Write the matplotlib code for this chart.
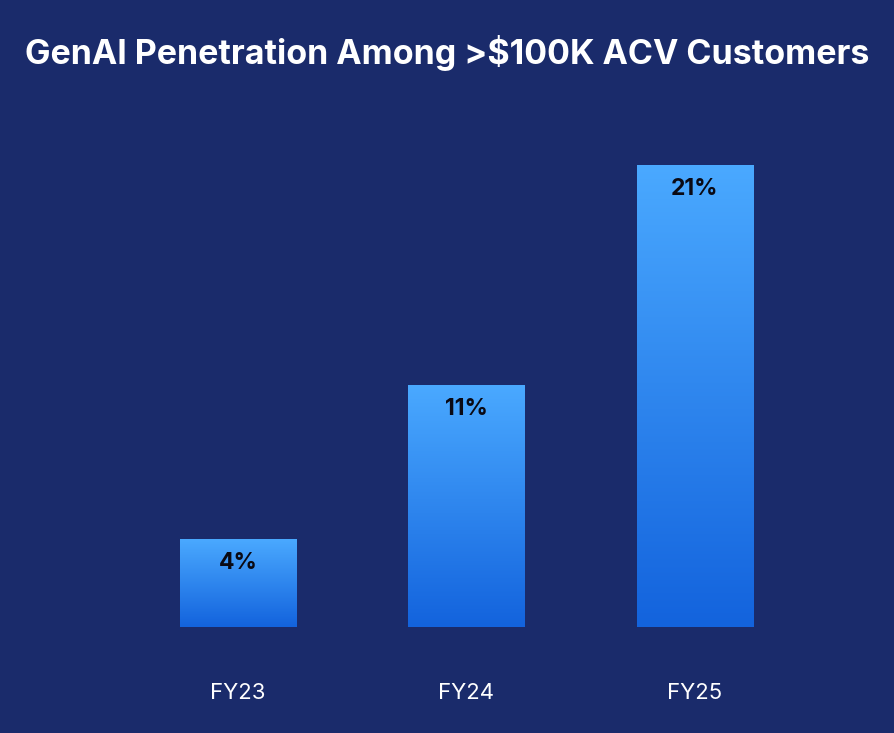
import matplotlib.pyplot as plt
import numpy as np
from matplotlib.colors import LinearSegmentedColormap

years = ['FY23', 'FY24', 'FY25']
penetration = [4, 11, 21]  # %
title = 'GenAI Penetration Among >$100K ACV Customers'

bg = '#1a2b6b'
grad = LinearSegmentedColormap.from_list('bar', ['#1363dd', '#4aa9ff'])

plt.rcParams['font.family'] = ['Inter', 'DejaVu Sans']

fig = plt.figure(figsize=(8.94, 7.33), dpi=100, facecolor=bg)
ax = fig.add_axes([123.75 / 894, (733 - 627) / 733, 685.5 / 894, (627 - 165) / 733])
ax.set_facecolor(bg)
ax.set_xlim(-0.5, 2.5)
ax.set_ylim(0, max(penetration))

width = 0.508
bars = ax.bar(range(len(years)), penetration, width=width, color='none', edgecolor='none')
g = np.linspace(0, 1, 256).reshape(-1, 1)
for i, b in enumerate(bars):
    x0, y0 = b.get_x(), b.get_y()
    w, h = b.get_width(), b.get_height()
    im = ax.imshow(g, cmap=grad, aspect='auto', origin='lower',
                   extent=[x0, x0 + w, y0, y0 + h], zorder=2)
    im.set_clip_path(b)
    ax.text(x0 + w / 2, y0 + h - 1.08, f'{penetration[i]}%',
            ha='center', va='center', fontsize=16.5, fontweight='bold',
            color='#0a0a14', zorder=3)

ax.set_xticks(range(len(years)))
ax.set_xticklabels(years, fontsize=16, color='white')
ax.tick_params(axis='x', length=0, pad=40)
ax.set_yticks([])
for s in ax.spines.values():
    s.set_visible(False)

fig.text(0.5, 1 - 53 / 733, title, ha='center', va='center', fontsize=24.5,
         fontweight='bold', color='white')

fig.savefig('out.png', dpi=100, facecolor=bg)
